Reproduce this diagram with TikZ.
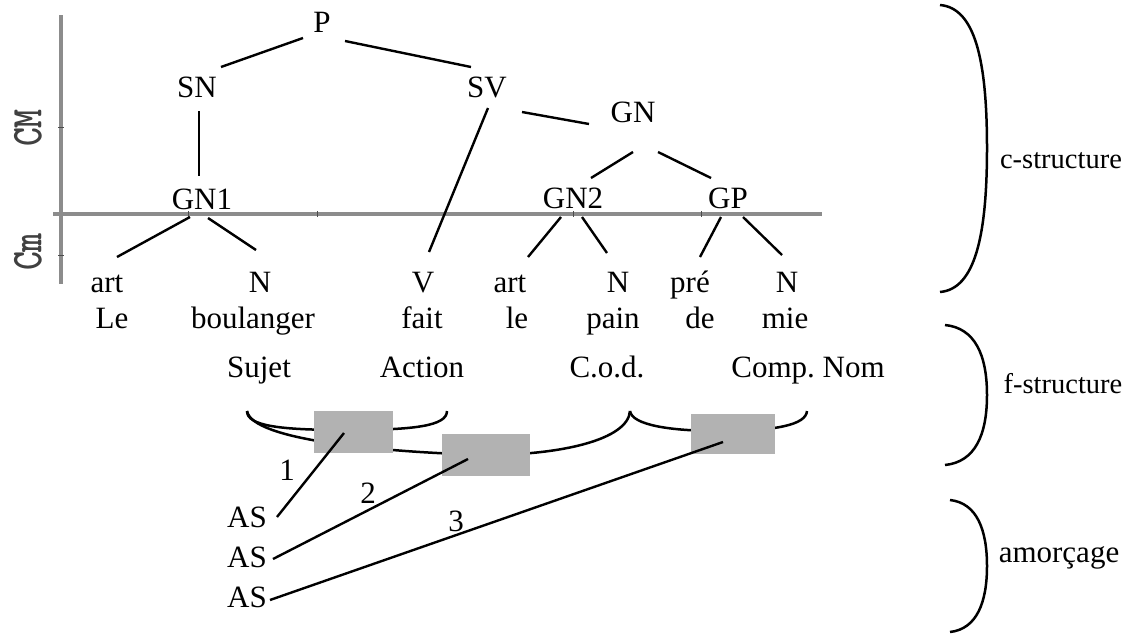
\documentclass[tikz,border=0pt]{standalone}
\usepackage{graphicx}
\usepackage{fontspec}
\setmainfont{Liberation Serif}
\frenchspacing
\begin{document}
\begin{tikzpicture}[x=1pt,y=-1pt,
  lbl/.style={font=\fontsize{31}{36}\selectfont, inner sep=0pt, anchor=base},
  slbl/.style={font=\fontsize{28.5}{34}\selectfont, inner sep=0pt, anchor=base},
  edge/.style={line width=2.4pt, black},
  axisline/.style={line width=3.6pt, color=black!45},
  tickmark/.style={line width=1pt, color=black!70},
  shadebox/.style={fill=black!30, draw=none, inner sep=0pt},
  curve/.style={line width=2.5pt, black},
  axlab/.style={font=\ttfamily\bfseries\fontsize{44}{44}\selectfont, rotate=90, inner sep=0pt, text=black!75}
]
\useasboundingbox (0,0) rectangle (1130,635);

% axes
\coordinate (vt) at (61,15);
\coordinate (vb) at (61,284);
\coordinate (hl) at (53,214);
\coordinate (hr) at (822,214);
\draw[axisline] (vt) -- (vb);
\draw[axisline] (hl) -- (hr);
\foreach \yy in {127,255} \draw[tickmark] (58,\yy) -- (64,\yy);
\foreach \xx in {188,317,573,701} \draw[tickmark] (\xx,211) -- (\xx,217);
\node[axlab] (CM) at (28,128) {\scalebox{0.82}[1]{CM}};
\node[axlab] (Cm) at (28,252) {\scalebox{0.82}[1]{Cm}};

% tree nodes
\node[lbl] (P) at (322,32) {P};
\node[lbl] (SN) at (197,97) {SN};
\node[lbl] (SV) at (487,97) {SV};
\node[lbl] (GN) at (633,122) {GN};
\node[lbl] (GN1) at (202,209) {GN1};
\node[lbl] (GN2) at (573,208) {GN2};
\node[lbl] (GP) at (728,208) {GP};

\node[lbl] (art1) at (107,292) {art};
\node[lbl] (N1) at (260,292) {N};
\node[lbl] (V) at (423,292) {V};
\node[lbl] (art2) at (510,292) {art};
\node[lbl] (N2) at (618,292) {N};
\node[lbl] (pre) at (690,292) {pré};
\node[lbl] (N3) at (787,292) {N};

\node[lbl] (Le) at (112,328) {Le};
\node[lbl] (boul) at (253,328) {boulanger};
\node[lbl] (fait) at (422,328) {fait};
\node[lbl] (le) at (517,328) {le};
\node[lbl] (pain) at (613,328) {pain};
\node[lbl] (de) at (700,328) {de};
\node[lbl] (mie) at (785,328) {mie};

\node[lbl] (Sujet) at (259,377) {Sujet};
\node[lbl] (Action) at (422,377) {Action};
\node[lbl] (Cod) at (607,377) {C.o.d.};
\node[lbl] (Comp) at (808,377) {Comp. Nom};

% tree edges
\draw[edge] ([shift={(-19,6)}]P.base) -- ([shift={(24,-30)}]SN.base);
\draw[edge] ([shift={(23,9)}]P.base) -- ([shift={(-16,-30)}]SV.base);
\draw[edge] ([shift={(2,14)}]SN.base) -- ([shift={(-3,-33)}]GN1.base);
\draw[edge] ([shift={(1,11)}]SV.base) -- ([shift={(6,-40)}]V.base);
\draw[edge] ([shift={(35,15)}]SV.base) -- ([shift={(-44,2)}]GN.base);
\draw[edge] ([shift={(0,30)}]GN.base) -- ([shift={(18,-30)}]GN2.base);
\draw[edge] ([shift={(25,30)}]GN.base) -- ([shift={(-17,-30)}]GP.base);
\draw[edge] ([shift={(-12,8)}]GN1.base) -- ([shift={(10,-35)}]art1.base);
\draw[edge] ([shift={(6,9)}]GN1.base) -- ([shift={(-4,-42)}]N1.base);
\draw[edge] ([shift={(-12,9)}]GN2.base) -- ([shift={(18,-35)}]art2.base);
\draw[edge] ([shift={(9,9)}]GN2.base) -- ([shift={(-11,-39)}]N2.base);
\draw[edge] ([shift={(-7,9)}]GP.base) -- ([shift={(10,-35)}]pre.base);
\draw[edge] ([shift={(15,9)}]GP.base) -- ([shift={(-5,-37)}]N3.base);

% f-structure brackets
\draw[curve] (247,411) .. controls (247,426) and (280,430) .. (347,430)
             .. controls (414,430) and (447,426) .. (447,411);
\draw[curve] (247,411) .. controls (252,440) and (380,452) .. (486,455)
             .. controls (560,455) and (628,440) .. (630,411);
\draw[curve] (630,411) .. controls (632,425) and (670,431) .. (720,431)
             .. controls (775,431) and (806,425) .. (807,411);

% shaded boxes
\node[shadebox, minimum width=79pt, minimum height=42pt] (b1) at (353.5,432) {};
\node[shadebox, minimum width=88pt, minimum height=42pt] (b2) at (486,455) {};
\node[shadebox, minimum width=84pt, minimum height=40pt] (b3) at (733,434) {};

% amorcage
\node[lbl] (AS1) at (247,527) {AS};
\node[lbl] (AS2) at (247,567) {AS};
\node[lbl] (AS3) at (247,607) {AS};
\draw[edge] ([shift={(30,-10)}]AS1.base) -- ([shift={(-9.5,1)}]b1.center);
\draw[edge] ([shift={(26,-8)}]AS2.base) -- ([shift={(-18,4)}]b2.center);
\draw[edge] ([shift={(23,-7)}]AS3.base) -- ([shift={(-10,8)}]b3.center);
\node[lbl] (n1) at (287,480) {1};
\node[lbl] (n2) at (368,503) {2};
\node[lbl] (n3) at (456,531) {3};

% right parentheses and labels
\draw[curve] (940,5) .. controls (975,8) and (987,60) .. (987,148)
             .. controls (987,236) and (975,289) .. (940,292);
\draw[curve] (945,325) .. controls (975,328) and (987,355) .. (987,395)
             .. controls (987,435) and (975,462) .. (945,465);
\draw[curve] (950,500) .. controls (977,503) and (987,530) .. (987,566)
             .. controls (987,602) and (977,629) .. (950,632);
\node[slbl] (cstr) at (1061,168) {c-structure};
\node[slbl] (fstr) at (1063,393) {f-structure};
\node[lbl] (amor) at (1059,562) {amorçage};
\end{tikzpicture}
\end{document}
